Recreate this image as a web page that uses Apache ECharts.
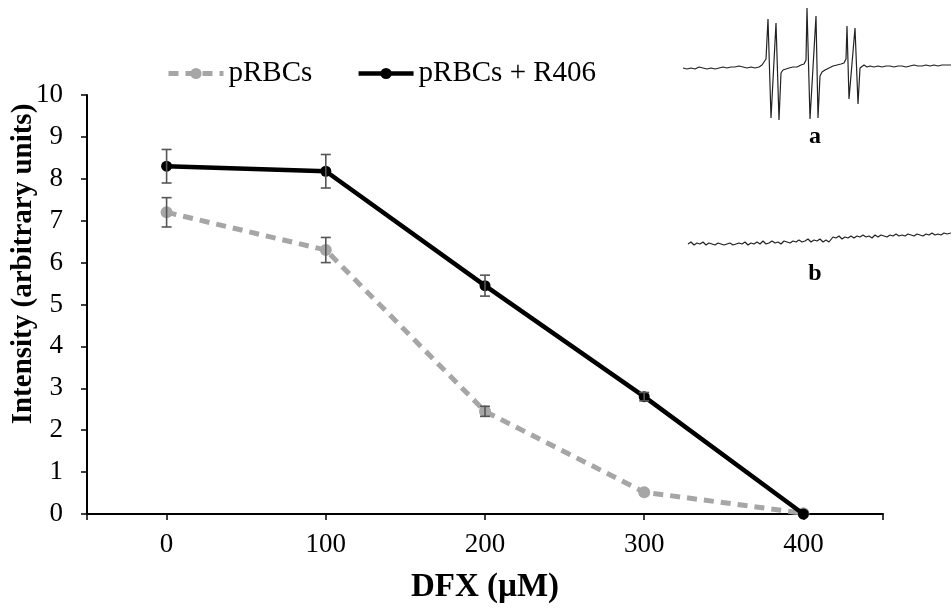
<!DOCTYPE html>
<html><head><meta charset="utf-8">
<script src="https://cdn.jsdelivr.net/npm/echarts@6/dist/echarts.min.js"></script>
<style>html,body{margin:0;padding:0;background:#fff}#c{width:951px;height:609px}</style>
</head><body><div id="c"></div>
<script>
const doses = [0, 100, 200, 300, 400];
const xTickLabels = [0, 100, 200, 300, 400];
const pRBCs = [7.2, 6.3, 2.45, 0.52, 0.02];
const pRBCsErr = [0.35, 0.3, 0.12, 0, 0];
const pRBCsR406 = [8.3, 8.18, 5.45, 2.8, 0];
const pRBCsR406Err = [0.4, 0.4, 0.25, 0.1, 0];
const seriesNames = ['pRBCs', 'pRBCs + R406'];
const xTitle = 'DFX (µM)';
const yTitle = 'Intensity (arbitrary units)';
const insetLabels = ['a', 'b'];
// EPR spectrum a (arbitrary field, signal)
const specA = [[0,0],[4,-1],[8,0],[12,-1],[16,1],[20,0],[24,-1],[28,0],[32,-1],[36,0],[40,1],[44,0],[48,1],[52,1],[56,2],[60,1],[64,0],[68,1],[72,0],[76,1],[79,3],[81,5],[83,9],[85,49],[88,-50],[93,45],[96,-52],[98,-5],[100,-2],[103,-1],[106,0],[110,1],[114,1],[118,3],[121,4],[123,8],[124,60],[127,-51],[133,52],[135,-50],[137,-8],[139,-4],[142,-2],[146,0],[150,2],[154,3],[158,4],[161,5],[163,9],[164,42],[166,-31],[172,40],[175,-36],[177,0],[179,-2],[181,3],[184,1],[187,2],[191,1],[195,2],[199,1],[203,2],[207,2],[211,1],[215,2],[219,2],[223,1],[227,2],[231,3],[235,2],[239,2],[243,3],[247,2],[251,3],[255,2],[259,3],[263,3],[268,3]];
// EPR spectrum b
const specB = [[0,16],[3,18],[6,15],[9,17],[12,16],[15,18],[18,15],[21,17],[24,16],[27,15],[30,17],[33,16],[36,15],[39,16],[42,17],[45,15],[48,16],[51,17],[54,16],[57,18],[60,15],[63,17],[66,16],[69,18],[72,16],[75,19],[78,16],[81,17],[84,19],[87,17],[90,18],[93,16],[96,19],[99,18],[102,17],[105,19],[108,18],[111,20],[114,18],[117,19],[120,21],[123,18],[126,20],[129,19],[132,21],[135,18],[138,20],[141,18],[143,19],[145,23],[148,22],[151,24],[154,21],[157,23],[160,22],[163,24],[166,22],[169,24],[172,23],[175,25],[178,23],[181,24],[184,22],[187,25],[190,23],[193,25],[196,24],[199,23],[202,25],[205,24],[208,26],[211,24],[214,25],[217,24],[220,26],[223,25],[226,24],[229,26],[232,25],[235,24],[238,26],[241,25],[244,27],[247,25],[250,26],[253,25],[256,27],[259,26],[263,27]];

const FONT = 'Liberation Serif, Times New Roman, serif';
const chart = echarts.init(document.getElementById('c'), null, {renderer: 'canvas'});

function errData(vals, errs) {
  return doses.map((d, i) => [d, vals[i], errs[i]]);
}
function errRender(params, api) {
  const x = api.value(0), y = api.value(1), e = api.value(2);
  if (!e) return null;
  const top = api.coord([x, y + e]);
  const bot = api.coord([x, y - e]);
  const w = 5;
  const st = {stroke: '#555', lineWidth: 1.6};
  return {type: 'group', children: [
    {type: 'line', shape: {x1: top[0], y1: top[1], x2: bot[0], y2: bot[1]}, style: st},
    {type: 'line', shape: {x1: top[0]-w, y1: top[1], x2: top[0]+w, y2: top[1]}, style: st},
    {type: 'line', shape: {x1: bot[0]-w, y1: bot[1], x2: bot[0]+w, y2: bot[1]}, style: st}
  ]};
}

const option = {
  backgroundColor: '#fff',
  animation: false,
  textStyle: {fontFamily: FONT, color: '#000'},
  graphic: [
    {type: 'text', x: 24, y: 264, rotation: Math.PI / 2,
     style: {text: yTitle, font: 'bold 29px ' + FONT, fill: '#000', align: 'center', verticalAlign: 'middle'}},
    {type: 'text', x: 815, y: 137,
     style: {text: insetLabels[0], font: 'bold 24px ' + FONT, fill: '#000', align: 'center', verticalAlign: 'middle'}},
    {type: 'text', x: 815, y: 274,
     style: {text: insetLabels[1], font: 'bold 24px ' + FONT, fill: '#000', align: 'center', verticalAlign: 'middle'}}
  ],
  legend: {
    data: [
      {name: seriesNames[0], lineStyle: {width: 5}},
      {name: seriesNames[1], lineStyle: {width: 4.5}}
    ],
    left: 161, top: 54,
    itemWidth: 55, itemHeight: 14, itemGap: 44,
    textStyle: {fontFamily: FONT, fontSize: 29, color: '#000'}
  },
  grid: [
    {left: 87, right: 68, top: 95, bottom: 94, containLabel: false},
    {left: 683, top: 0, width: 268, height: 125},
    {left: 688, top: 220, width: 263, height: 40}
  ],
  xAxis: [
    {type: 'value', gridIndex: 0, min: -50, max: 450,
     name: xTitle, nameLocation: 'middle', nameGap: 57,
     nameTextStyle: {fontFamily: FONT, fontSize: 33, fontWeight: 'bold', color: '#000'},
     axisLine: {show: true, onZero: false, lineStyle: {color: '#000', width: 2}},
     axisTick: {show: true, length: 6, lineStyle: {color: '#000', width: 1.5}, customValues: [-50, 0, 100, 200, 300, 400, 450]},
     axisLabel: {customValues: xTickLabels, fontFamily: FONT, fontSize: 27, color: '#000', margin: 17},
     splitLine: {show: false}},
    {type: 'value', gridIndex: 1, min: 0, max: 268, show: false},
    {type: 'value', gridIndex: 2, min: 0, max: 263, show: false}
  ],
  yAxis: [
    {type: 'value', gridIndex: 0, min: 0, max: 10, interval: 1,
     axisLine: {show: true, onZero: false, lineStyle: {color: '#000', width: 2}},
     axisTick: {show: true, length: 6, lineStyle: {color: '#000', width: 1.5}},
     axisLabel: {fontFamily: FONT, fontSize: 27, color: '#000', margin: 24},
     splitLine: {show: false}},
    {type: 'value', gridIndex: 1, min: -57, max: 68, show: false},
    {type: 'value', gridIndex: 2, min: 0, max: 40, show: false}
  ],
  series: [
    {name: seriesNames[0], type: 'line', xAxisIndex: 0, yAxisIndex: 0,
     data: doses.map((d, i) => [d, pRBCs[i]]),
     symbol: 'circle', symbolSize: 12,
     itemStyle: {color: '#A6A6A6'},
     lineStyle: {color: '#A6A6A6', width: 5, type: [10, 7]},
     z: 2},
    {name: seriesNames[1], type: 'line', xAxisIndex: 0, yAxisIndex: 0,
     data: doses.map((d, i) => [d, pRBCsR406[i]]),
     symbol: 'circle', symbolSize: 11,
     itemStyle: {color: '#000'},
     lineStyle: {color: '#000', width: 4.5},
     z: 3},
    {type: 'custom', xAxisIndex: 0, yAxisIndex: 0, renderItem: errRender,
     data: errData(pRBCs, pRBCsErr), encode: {x: 0, y: 1}, z: 5, silent: true},
    {type: 'custom', xAxisIndex: 0, yAxisIndex: 0, renderItem: errRender,
     data: errData(pRBCsR406, pRBCsR406Err), encode: {x: 0, y: 1}, z: 5, silent: true},
    {type: 'line', xAxisIndex: 1, yAxisIndex: 1, data: specA, symbol: 'none',
     lineStyle: {color: '#222', width: 1.2}, silent: true},
    {type: 'line', xAxisIndex: 2, yAxisIndex: 2, data: specB, symbol: 'none',
     lineStyle: {color: '#222', width: 1.2}, silent: true}
  ]
};
chart.setOption(option);
</script></body></html>
